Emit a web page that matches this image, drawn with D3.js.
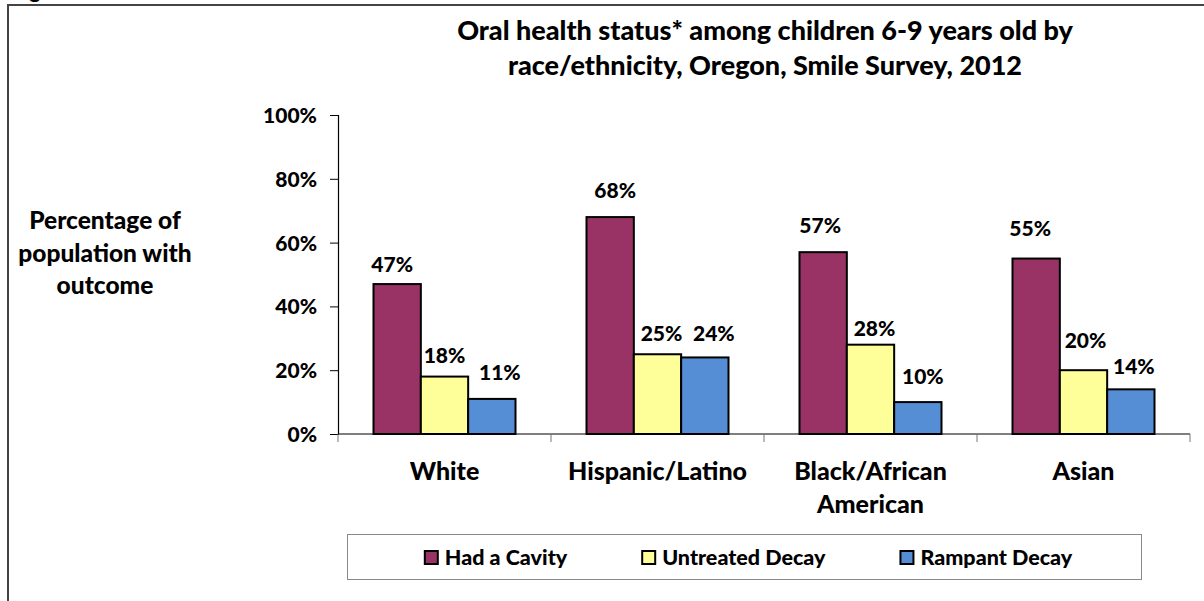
<!DOCTYPE html>
<html>
<head>
<meta charset="utf-8">
<script src="https://cdn.jsdelivr.net/npm/d3@7"></script>
<style>
  html, body { margin: 0; padding: 0; background: #fff; }
  svg { display: block; }
  text { font-family: Lato, "Open Sans", sans-serif; font-weight: 900; fill: #000; }
</style>
</head>
<body>
<svg id="chart" width="1204" height="601"></svg>
<script>
// ---- data ----
const categories = ["White", "Hispanic/Latino", "Black/African American", "Asian"];
const categoryLines = [["White"], ["Hispanic/Latino"], ["Black/African", "American"], ["Asian"]];
const seriesNames = ["Had a Cavity", "Untreated Decay", "Rampant Decay"];
const hadCavity      = [47, 68, 57, 55];
const untreatedDecay = [18, 25, 28, 20];
const rampantDecay   = [11, 24, 10, 14];
const yTicks = [0, 20, 40, 60, 80, 100];
const titleLines = ["Oral health status* among children 6-9 years old by",
                    "race/ethnicity, Oregon, Smile Survey, 2012"];
const yTitleLines = ["Percentage of", "population with", "outcome"];

// ---- layout / style (not data) ----
const seriesColors = ["#993366", "#FFFF99", "#558ED5"];
// hand-placed label nudges from the original (px): gap above bar top, and horizontal shift
const labelGap = [[12, 14, 19], [19, 13, 16], [19, 9, 18], [23, 22, 15]];
const labelDx  = [[-5, 0, 8], [5, 4, 9], [-3, 4, 5], [-6, 2, 3]];

const seriesValues = [hadCavity, untreatedDecay, rampantDecay];
const svg = d3.select("#chart");

// outer frame (extends past the page on the right and bottom)
svg.append("rect").attr("x", 8).attr("y", 5).attr("width", 1400).attr("height", 800)
  .attr("fill", "none").attr("stroke", "#444").attr("stroke-width", 2);
// caption above the frame, cut off at the page top as in the original
svg.append("text").attr("x", 12).attr("y", -1).style("font-size", "21px").text("Figure 4");

const x = d3.scaleBand().domain(categories).range([338, 1190]).paddingInner(0).paddingOuter(0);
const xs = d3.scaleBand().domain(seriesNames).range([0, x.bandwidth()]).paddingInner(0).paddingOuter(0.75);
const y = d3.scaleLinear().domain([0, 100]).range([434, 115]);

// title
svg.append("g").selectAll("text").data(titleLines).join("text")
  .attr("x", 765).attr("y", (d, i) => 40 + i * 35)
  .attr("text-anchor", "middle").style("font-size", "27px").text(d => d);

// y-axis title
svg.append("g").selectAll("text").data(yTitleLines).join("text")
  .attr("x", 105).attr("y", (d, i) => 229 + i * 32.5)
  .attr("text-anchor", "middle").style("font-size", "24.5px").text(d => d);

// y axis
const yAxis = svg.append("g").attr("transform", "translate(338,0)")
  .call(d3.axisLeft(y).tickValues(yTicks).tickSize(8).tickPadding(13).tickFormat(d => d + "%"));
yAxis.select(".domain").attr("stroke", "#000").attr("stroke-width", 1.2);
yAxis.selectAll(".tick line").attr("stroke", "#000");
yAxis.selectAll(".tick text").style("font-size", "21px").style("font-family", "Lato, sans-serif")
  .style("font-weight", "900").attr("dy", "0.36em");

// x axis
const xAxisG = svg.append("g").attr("transform", "translate(0,434)");
xAxisG.append("line").attr("x1", 338).attr("x2", 1190).attr("y1", 0).attr("y2", 0)
  .attr("stroke", "#000").attr("stroke-width", 1.2);
const boundaries = categories.map(c => x(c)).concat([x(categories[categories.length - 1]) + x.bandwidth()]);
xAxisG.selectAll("line.tk").data(boundaries).join("line").attr("class", "tk")
  .attr("x1", d => d).attr("x2", d => d).attr("y1", 0).attr("y2", 8)
  .attr("stroke", "#777").attr("stroke-width", 1);

// category labels
const catG = svg.append("g");
categories.forEach((c, i) => {
  catG.append("g").selectAll("text").data(categoryLines[i]).join("text")
    .attr("x", x(c) + x.bandwidth() / 2)
    .attr("y", (d, k) => 480 + k * 33)
    .attr("text-anchor", "middle").style("font-size", "25px").text(d => d);
});

// bars
const barsG = svg.append("g");
categories.forEach((c, i) => {
  seriesNames.forEach((s, j) => {
    const v = seriesValues[j][i];
    barsG.append("rect")
      .attr("x", x(c) + xs(s)).attr("y", y(v))
      .attr("width", xs.bandwidth()).attr("height", y(0) - y(v))
      .attr("fill", seriesColors[j]).attr("stroke", "#000").attr("stroke-width", 2);
    barsG.append("text")
      .attr("x", x(c) + xs(s) + xs.bandwidth() / 2 + labelDx[i][j])
      .attr("y", y(v) - labelGap[i][j])
      .attr("text-anchor", "middle").style("font-size", "21px").text(v + "%");
  });
});

// legend
const lg = svg.append("g");
lg.append("rect").attr("x", 347.5).attr("y", 534.5).attr("width", 794).attr("height", 45)
  .attr("fill", "#fff").attr("stroke", "#888").attr("stroke-width", 1);
const items = lg.selectAll("g.item").data(seriesNames).join("g").attr("class", "item");
items.append("rect").attr("x", 0).attr("y", -13).attr("width", 13).attr("height", 13)
  .attr("fill", (d, j) => seriesColors[j]).attr("stroke", "#000").attr("stroke-width", 2);
items.append("text").attr("x", 20).attr("y", 1).style("font-size", "21.5px").text(d => d);
const widths = [];
items.each(function () { widths.push(this.querySelector("text").getComputedTextLength() + 20); });
const gap = 75;
const total = d3.sum(widths) + gap * (widths.length - 1);
let start = 748.5 - total / 2;
items.attr("transform", (d, j) => {
  const t = `translate(${start},564)`;
  start += widths[j] + gap;
  return t;
});
</script>
</body>
</html>
